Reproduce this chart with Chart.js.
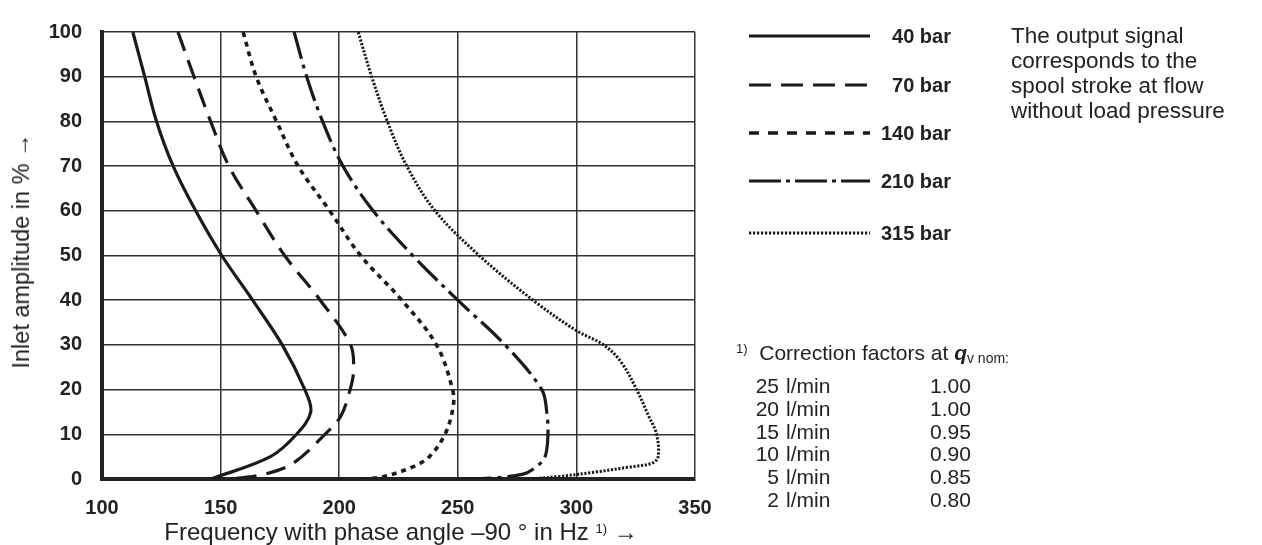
<!DOCTYPE html>
<html>
<head>
<meta charset="utf-8">
<script src="https://cdn.jsdelivr.net/npm/chart.js@4"></script>
<style>
  html, body { margin: 0; padding: 0; background: #fff; }
  #wrap { position: relative; width: 1262px; height: 545px; overflow: hidden; font-family: "Liberation Sans", Arial, sans-serif; color: #222; }
  #c { position: absolute; left: 0; top: 0; }
  .lbl { position: absolute; font-weight: bold; font-size: 20px; line-height: 24px; text-align: right; width: 90px; }
  .note { position: absolute; left: 1011px; top: 23px; font-size: 22.5px; line-height: 25px; }
  .corr { position: absolute; left: 736px; top: 341px; font-size: 21px; line-height: 24px; white-space: nowrap; }
  .corr table { border-collapse: collapse; margin-top: 5px; }
  .corr td { padding: 0; font-size: 21px; line-height: 22.8px; }
  .corr td.n { text-align: right; width: 43px; padding-right: 7px; }
  .corr td.u { width: 144px; }
  sup { font-size: 13px; vertical-align: 7px; line-height: 0; }
  .xt { position: absolute; left: 401px; top: 518px; font-size: 24px; line-height: 28px; white-space: nowrap; transform: translateX(-50%); }
  .yt { position: absolute; left: 21px; top: 251px; font-size: 23.5px; line-height: 28px; white-space: nowrap; transform: translate(-50%, -50%) rotate(-90deg); }
</style>
</head>
<body>
<div id="wrap">
  <canvas id="c" width="1262" height="545"></canvas>
  <div class="yt">Inlet amplitude in % &rarr;</div>
  <div class="xt">Frequency with phase angle &ndash;90 &deg; in Hz <sup>1)</sup> &rarr;</div>
  <div id="legend"></div>
  <div class="note">The output signal<br>corresponds to the<br>spool stroke at flow<br>without load pressure</div>
  <div class="corr">
    <div><sup>1)</sup>&nbsp; Correction factors at <b><i>q</i></b><span style="font-size:14px;vertical-align:-3px">v nom:</span></div>
    <table id="corrTable"></table>
  </div>
</div>
<script>
// --- data (frequency in Hz, amplitude in %) ---
var seriesNames = ["40 bar", "70 bar", "140 bar", "210 bar", "315 bar"];

var amp40  = [100, 90, 80, 70, 60, 50, 40, 30, 20, 15, 10, 5, 0];
var freq40 = [113, 118, 123, 130, 139.5, 150.5, 163.5, 176, 185.5, 188, 182, 171, 146];

var amp70  = [100, 90, 80, 70, 60, 50, 40, 30, 24, 20, 14, 10, 3.5, 1, 0];
var freq70 = [132, 138.8, 145.8, 153.5, 165, 177, 192, 204.8, 206, 204.6, 200.6, 194, 180.5, 168, 154];

var amp140  = [100, 90, 80, 70, 60, 50, 40, 30, 20, 16, 10, 5, 2.7, 0.5, 0];
var freq140 = [159.5, 165, 173.6, 182.7, 196, 209, 226.4, 241, 247.8, 248, 244.6, 238, 231, 218.5, 211];

var amp210  = [100, 90, 80, 70, 60, 50, 40, 30, 20, 15, 10, 5, 2.7, 1.1, 0.2, 0];
var freq210 = [181, 186.3, 193, 201.6, 214.3, 231, 250, 269.9, 285.4, 287.5, 288, 286.8, 283, 277.5, 263.6, 251];

var amp315  = [100, 90, 80, 70, 60, 50, 40, 33.2, 30, 26.2, 20, 14.4, 10, 4.9, 3.5, 2.7, 1.6, 0.5, 0];
var freq315 = [208, 213.7, 220.3, 228.5, 240.4, 259, 281.7, 300, 311.5, 318.8, 325.4, 330.2, 333.8, 334.4, 331.7, 322.6, 308.6, 291.7, 279];

var xTicks = [100, 150, 200, 250, 300, 350];
var yTicks = [0, 10, 20, 30, 40, 50, 60, 70, 80, 90, 100];

var corrFlow   = ["25", "20", "15", "10", "5", "2"];
var corrFactor = ["1.00", "1.00", "0.95", "0.90", "0.85", "0.80"];

// line styles per series
var styles = [
  { dash: [], width: 3.2, legendDash: [] },
  { dash: [20, 10], width: 3.2, legendDash: [22, 10] },
  { dash: [5, 5], width: 3.6, legendDash: [10, 9] },
  { dash: [28, 6, 4, 6], width: 3.2, legendDash: [32, 5, 4, 5] },
  { dash: [2.2, 1.6], width: 3, legendDash: [2.2, 1.8] }
];
var legendRowY = [36, 85, 133, 181, 233];

function pts(f, a) { return f.map(function (x, i) { return { x: x, y: a[i] }; }); }
var allData = [pts(freq40, amp40), pts(freq70, amp70), pts(freq140, amp140), pts(freq210, amp210), pts(freq315, amp315)];

var datasets = allData.map(function (d, i) {
  return {
    label: seriesNames[i], data: d, showLine: true, pointRadius: 0, tension: 0.35,
    borderColor: "#1a1a1a", borderWidth: styles[i].width, borderDash: styles[i].dash,
    borderCapStyle: "butt", fill: false
  };
});

// legend labels + correction table as html text
var lg = document.getElementById("legend");
seriesNames.forEach(function (n, i) {
  var d = document.createElement("div");
  d.className = "lbl";
  d.style.left = (951 - 90) + "px";
  d.style.top = (legendRowY[i] - 12) + "px";
  d.textContent = n;
  lg.appendChild(d);
});
document.getElementById("corrTable").innerHTML = corrFlow.map(function (q, i) {
  return '<tr><td class="n">' + q + '</td><td class="u">l/min</td><td>' + corrFactor[i] + '</td></tr>';
}).join("");

var legendLines = {
  id: "legendLines",
  afterDraw: function (chart) {
    var ctx = chart.ctx;
    ctx.save();
    ctx.strokeStyle = "#1a1a1a";
    styles.forEach(function (s, i) {
      ctx.lineWidth = s.width;
      ctx.setLineDash(s.legendDash);
      ctx.beginPath();
      ctx.moveTo(749, legendRowY[i]);
      ctx.lineTo(870, legendRowY[i]);
      ctx.stroke();
    });
    ctx.restore();
  }
};

var tickFont = { family: "'Liberation Sans', Arial", weight: "bold", size: 20 };

new Chart(document.getElementById("c"), {
  type: "scatter",
  data: { datasets: datasets },
  plugins: [legendLines],
  options: {
    responsive: false, animation: false, devicePixelRatio: 1,
    layout: { padding: { left: 0, top: 24, right: 567, bottom: 0 } },
    plugins: { legend: { display: false }, tooltip: { enabled: false } },
    scales: {
      x: {
        type: "linear", min: 100, max: 350,
        afterBuildTicks: function (s) { s.ticks = xTicks.map(function (v) { return { value: v }; }); },
        afterFit: function (s) { s.height = 66; },
        ticks: { font: tickFont, color: "#222", padding: 17 },
        grid: { color: "#333", lineWidth: 1.5, drawTicks: false },
        border: { color: "#222", width: 4 }
      },
      y: {
        min: 0, max: 100,
        afterBuildTicks: function (s) { s.ticks = yTicks.map(function (v) { return { value: v }; }); },
        afterFit: function (s) { s.width = 102; },
        ticks: { font: tickFont, color: "#222", padding: 20 },
        grid: { color: "#333", lineWidth: 1.5, drawTicks: false },
        border: { color: "#222", width: 4 }
      }
    }
  }
});
</script>
</body>
</html>
